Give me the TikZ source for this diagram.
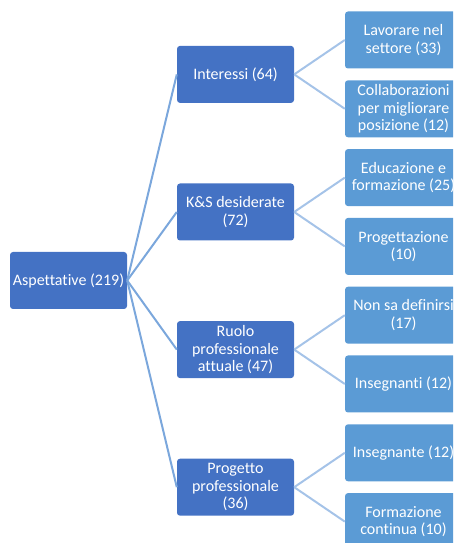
\documentclass[tikz,border=0pt]{standalone}
\usepackage{fontspec}
\setmainfont{Carlito}[Ligatures={NoCommon}]
\definecolor{darkbox}{HTML}{4472C4}
\definecolor{lightbox}{HTML}{5B9BD5}
\definecolor{lineA}{HTML}{7BA7DC}
\definecolor{lineB}{HTML}{A5C3E8}
\tikzset{
  x=1pt,y=1pt,
  boxbase/.style={rounded corners=3pt, minimum width=117pt, minimum height=57pt, inner sep=0pt, text=white, align=center, font=\fontsize{16}{17.5}\selectfont},
  rootbox/.style={boxbase, fill=darkbox},
  midbox/.style={boxbase, fill=darkbox},
  leafbox/.style={boxbase, fill=lightbox},
  linkA/.style={draw=lineA, line width=2pt},
  linkB/.style={draw=lineB, line width=2pt}
}
\begin{document}
\begin{tikzpicture}
\useasboundingbox (0,0) rectangle (453,543);
\clip (0,0) rectangle (453,543);
\node[rootbox] (root) at (68.5,262.5) {Aspettative (219)};
\node[midbox] (m1) at (235.5,468.6) {Interessi (64)};
\node[midbox] (m2) at (235.5,331) {K\&S desiderate\\(72)};
\node[midbox] (m3) at (235.5,193.4) {Ruolo\\professionale\\attuale (47)};
\node[midbox] (m4) at (235.5,55.8) {Progetto\\professionale\\(36)};
\node[leafbox] (l1) at (403.5,503) {Lavorare nel\\settore (33)};
\node[leafbox] (l2) at (403.5,434.2) {Collaborazioni\\per migliorare\\posizione (12)};
\node[leafbox] (l3) at (403.5,365.4) {Educazione e\\formazione (25)};
\node[leafbox] (l4) at (403.5,296.6) {Progettazione\\(10)};
\node[leafbox] (l5) at (403.5,227.8) {Non sa definirsi\\(17)};
\node[leafbox] (l6) at (403.5,159) {Insegnanti (12)};
\node[leafbox] (l7) at (403.5,90.2) {Insegnante (12)};
\node[leafbox] (l8) at (403.5,21.4) {Formazione\\continua (10)};
\foreach \m in {m1,m2,m3,m4} \draw[linkA] (root.east) -- (\m.west);
\draw[linkB] (m1.east) -- (l1.west);
\draw[linkB] (m1.east) -- (l2.west);
\draw[linkB] (m2.east) -- (l3.west);
\draw[linkB] (m2.east) -- (l4.west);
\draw[linkB] (m3.east) -- (l5.west);
\draw[linkB] (m3.east) -- (l6.west);
\draw[linkB] (m4.east) -- (l7.west);
\draw[linkB] (m4.east) -- (l8.west);
\end{tikzpicture}
\end{document}
